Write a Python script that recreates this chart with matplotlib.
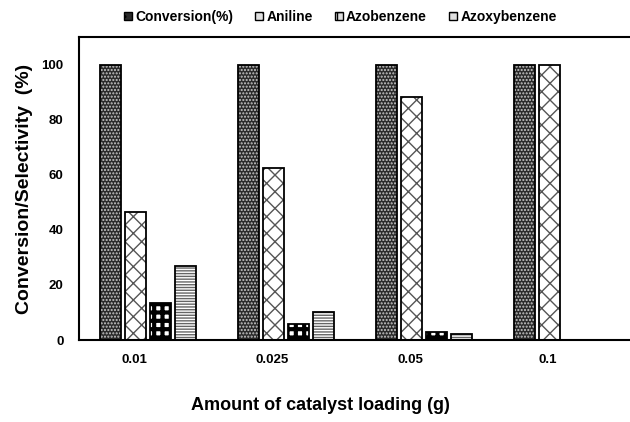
import numpy as np
from matplotlib import pyplot as plt
from matplotlib.patches import Patch

# catalyst loading (g) and results (%)
loadings = ['0.01', '0.025', '0.05', '0.1']
conversion = [100, 100, 100, 100]
aniline = [46.5, 62.5, 88.2, 100]
azobenzene = [13.5, 5.7, 3.0, 0]
azoxybenzene = [26.8, 10.3, 2.0, 0]

plt.rcParams['font.family'] = ['Liberation Sans', 'DejaVu Sans']
plt.rcParams['font.weight'] = 'bold'

fig = plt.figure(figsize=(6.3, 4.22), dpi=100)
ax = fig.add_axes([0.1254, 0.1943, 0.8762, 0.718])

x = np.arange(len(loadings))
w = 0.155
step = 0.182

series = [
    (conversion, 'Conversion(%)', '#2a2a2a', '#c8c8c8', '.....'),
    (aniline, 'Aniline', 'white', '#555555', 'xx'),
    (azobenzene, 'Azobenzene', 'white', 'black', '++'),
    (azoxybenzene, 'Azoxybenzene', 'white', '#666666', '------'),
]

handles = []
for i, (vals, name, fc, hc, hatch) in enumerate(series):
    pos = x + (i - 1.5) * step
    bars = ax.bar(pos, vals, w, color=fc, edgecolor=hc, hatch=hatch, linewidth=0)
    if name == 'Azobenzene':
        for b in bars:
            if hasattr(b, 'set_hatch_linewidth'):
                b.set_hatch_linewidth(3.0)
    ax.bar(pos, vals, w, fill=False, edgecolor='black', linewidth=1.3)
    handles.append(Patch(facecolor=fc if fc != 'white' else '#e0e0e0', edgecolor='black',
                         hatch=hatch[:2], linewidth=1.0, label=name))

ax.set_xlim(-0.5, 3.5)
ax.set_ylim(0, 110)
ax.set_yticks([0, 20, 40, 60, 80, 100])
ax.set_xticks(x - 0.1)
ax.set_xticklabels(loadings)
ax.tick_params(axis='y', length=0, pad=11, labelsize=9.5)
ax.tick_params(axis='x', length=0, pad=10, labelsize=9.5)
for s in ['left', 'top', 'bottom']:
    ax.spines[s].set_linewidth(1.5)
ax.spines['right'].set_visible(False)

ax.set_ylabel('Conversion/Selectivity  (%)', fontsize=14, fontweight='bold')
ax.yaxis.set_label_coords(-0.083, 0.5)
fig.text(0.508, 0.04, 'Amount of catalyst loading (g)', ha='center', va='center',
         fontsize=13, fontweight='bold')

fig.legend(handles=handles, loc='center', bbox_to_anchor=(0.54, 0.96), ncol=4,
           frameon=False, fontsize=10, handlelength=0.6, handleheight=0.6,
           handletextpad=0.2, columnspacing=1.6)

fig.savefig('out.png', dpi=100)
